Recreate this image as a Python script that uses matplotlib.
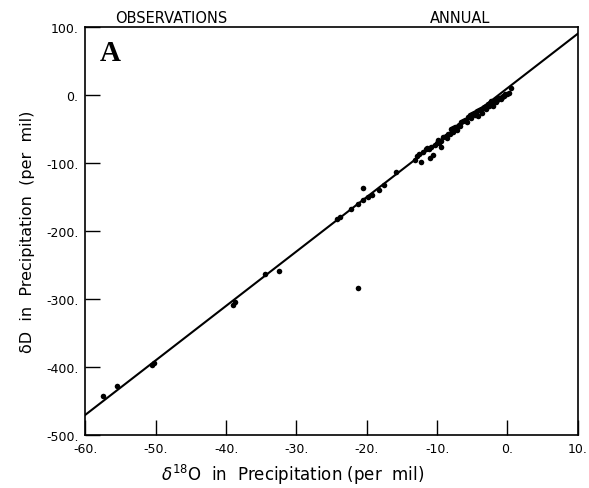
import numpy as np
import matplotlib
matplotlib.use('Agg')
import matplotlib.pyplot as plt

d18o = [-57.5, -55.5, -50.6, -50.2, -39.0, -38.8, -34.5, -32.5, -21.3,
        -24.2, -23.8, -22.3, -21.2, -20.6, -20.5, -19.8, -19.2, -18.3,
        -17.6, -15.8, -13.2, -12.8, -12.3, -12.0, -11.6, -11.2, -11.0,
        -10.6, -10.3, -10.0, -9.7, -9.4, -9.1, -8.8, -8.5, -8.2, -8.0,
        -7.7, -7.4, -7.1, -6.9, -6.6, -6.3, -6.0, -5.6, -5.3, -5.0,
        -4.8, -4.5, -4.3, -4.0, -3.8, -3.5, -3.3, -3.0, -2.8, -2.5,
        -2.3, -2.0, -1.8, -1.5, -1.2, -1.0, -0.8, -0.5, -0.3, 0.0,
        0.5, -4.2, -3.6, -2.6, -1.6, -9.5, -7.8, -5.8, -2.1, -0.9,
        -10.8, -9.9, -8.6, -7.2, -6.7, -5.2, -4.6, -3.1, -2.4, -1.4,
        -0.6, 0.2, -12.6, -11.4]
dD = [-442, -428, -397, -394, -308, -304, -263, -258, -284,
      -182, -180, -168, -160, -155, -137, -150, -147, -140,
      -132, -113, -95, -90, -99, -84, -80, -79, -92,
      -88, -73, -70, -70, -68, -62, -60, -57, -58, -50,
      -48, -47, -45, -44, -40, -38, -37, -32, -30, -28,
      -27, -25, -24, -22, -21, -19, -18, -17, -14, -12,
      -12, -10, -8, -7, -5, -4, -3, -2, 1, 2,
      10, -31, -26, -17, -11, -76, -55, -40, -16, -6,
      -77, -66, -63, -52, -46, -34, -29, -20, -9, -4,
      -1, 3, -87, -78]

# meteoric water line
mwl_x = [-60, 10]
mwl_slope = 8.0
mwl_icpt = 10.0

xticks = [-60, -50, -40, -30, -20, -10, 0, 10]
yticks = [100, 0, -100, -200, -300, -400, -500]

fig = plt.figure(figsize=(5.89, 4.89), dpi=100)
ax = fig.add_axes([0.145, 0.108, 0.836, 0.835])

lx = np.array(mwl_x, dtype=float)
ax.plot(lx, mwl_slope * lx + mwl_icpt, color='black', lw=1.5, zorder=2)
ax.scatter(d18o, dD, s=16, color='black', zorder=3, linewidths=0)

ax.set_xlim(-60, 10)
ax.set_ylim(-500, 100)
ax.set_xticks(xticks)
ax.set_yticks(yticks)
ax.set_xticklabels([f'{t}.' for t in xticks], fontsize=9)
ax.set_yticklabels([f'{t}.' for t in yticks], fontsize=9)
ax.tick_params(direction='in', length=11, width=1.0, top=False, right=False,
               pad=5)
for sp in ax.spines.values():
    sp.set_linewidth(1.2)

ax.set_xlabel(r'$\delta^{18}$O  in  Precipitation (per  mil)', fontsize=12,
              labelpad=2)
ax.xaxis.set_label_coords(0.42, -0.065)
ax.set_ylabel('δD  in  Precipitation  (per  mil)', fontsize=11.5, labelpad=8)

ax.text(0.03, 0.97, 'A', transform=ax.transAxes, fontsize=21,
        fontweight='bold', family='Liberation Serif', va='top', ha='left')
fig.text(0.195, 0.953, 'OBSERVATIONS', fontsize=10.5)
fig.text(0.73, 0.953, 'ANNUAL', fontsize=10.5)

plt.savefig('out.png', dpi=100)
